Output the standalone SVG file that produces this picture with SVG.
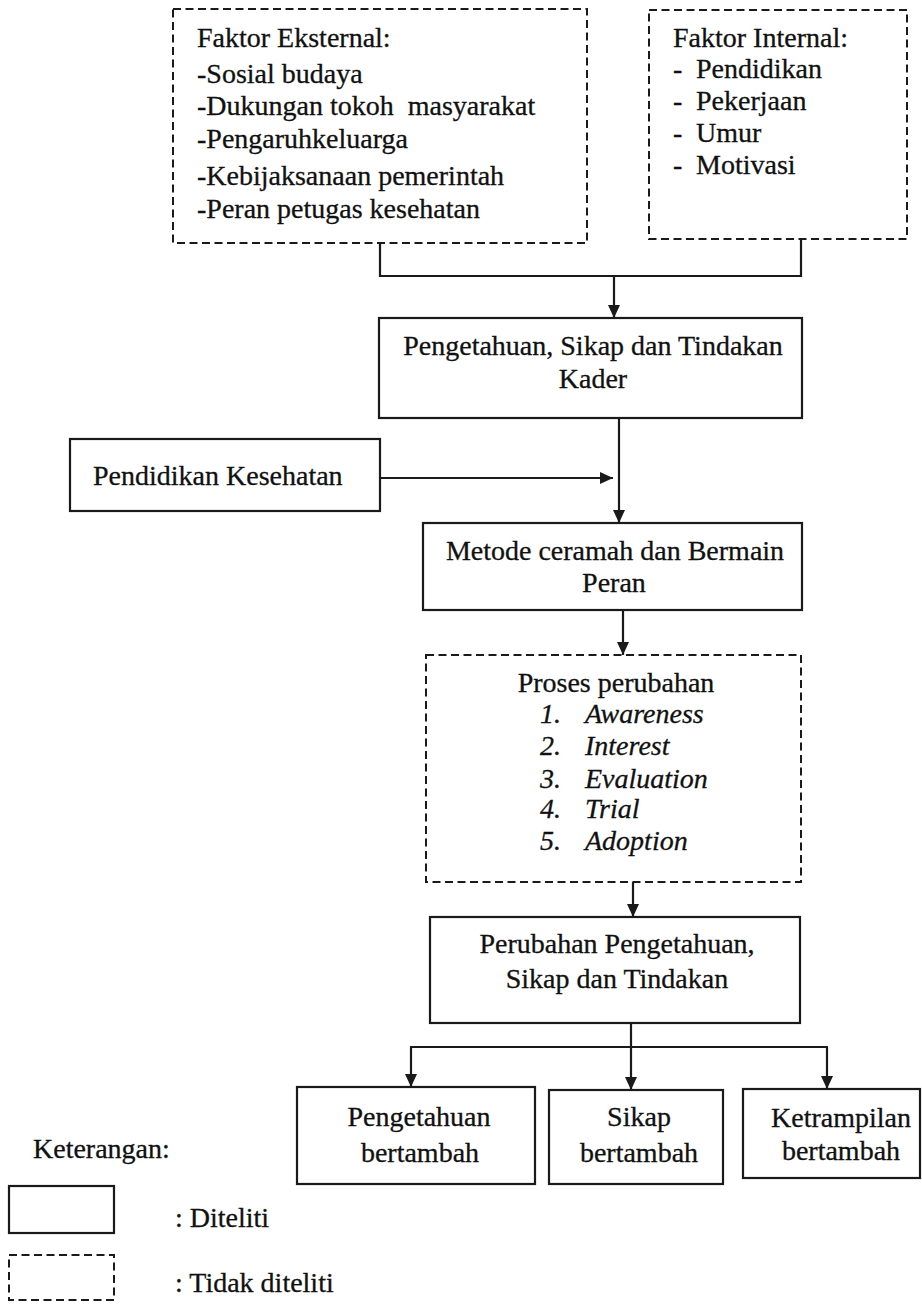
<svg xmlns="http://www.w3.org/2000/svg" width="922" height="1304" viewBox="0 0 922 1304">
<style>
  .box{fill:none;stroke:#1a1a1a;stroke-width:2.2}
  .dash{fill:none;stroke:#1a1a1a;stroke-width:2;stroke-dasharray:8 4.5}
  .t{font-family:"Liberation Serif","Times New Roman",serif;font-size:28px;fill:#111111;stroke:#111111;stroke-width:0.3}
  .c{text-anchor:middle}
  .i{font-style:italic}
  .ln{fill:none;stroke:#1a1a1a;stroke-width:2.2}
</style>
<defs>
  <marker id="arr" markerUnits="userSpaceOnUse" markerWidth="14" markerHeight="12" refX="13" refY="6" orient="auto">
    <path d="M0,0 L13,6 L0,12 Z" fill="#1a1a1a"/>
  </marker>
</defs>
<rect width="922" height="1304" fill="#ffffff"/>

<g id="connectors">
  <polyline class="ln" points="380,243 380,276 801,276 801,239"/>
  <line class="ln" x1="614" y1="276" x2="614" y2="318" marker-end="url(#arr)"/>
  <line class="ln" x1="380" y1="478" x2="613" y2="478" marker-end="url(#arr)"/>
  <line class="ln" x1="619" y1="418" x2="619" y2="523" marker-end="url(#arr)"/>
  <line class="ln" x1="623" y1="610" x2="623" y2="655" marker-end="url(#arr)"/>
  <line class="ln" x1="633" y1="882" x2="633" y2="917" marker-end="url(#arr)"/>
  <line class="ln" x1="631" y1="1023" x2="631" y2="1047"/>
  <line class="ln" x1="410" y1="1047" x2="828" y2="1047"/>
  <line class="ln" x1="411" y1="1047" x2="411" y2="1087" marker-end="url(#arr)"/>
  <line class="ln" x1="631" y1="1047" x2="631" y2="1090" marker-end="url(#arr)"/>
  <line class="ln" x1="827" y1="1047" x2="827" y2="1089" marker-end="url(#arr)"/>
</g>

<g id="faktor-eksternal">
  <rect class="dash" x="173" y="9" width="414" height="234"/>
  <text class="t" x="197" y="47">Faktor Eksternal:</text>
  <text class="t" x="197" y="83">-Sosial budaya</text>
  <text class="t" x="197" y="115" xml:space="preserve">-Dukungan tokoh  masyarakat</text>
  <text class="t" x="197" y="148">-Pengaruhkeluarga</text>
  <text class="t" x="197" y="185">-Kebijaksanaan pemerintah</text>
  <text class="t" x="197" y="218">-Peran petugas kesehatan</text>
</g>

<g id="faktor-internal">
  <rect class="dash" x="649" y="10" width="258" height="229"/>
  <text class="t" x="673" y="47">Faktor Internal:</text>
  <text class="t" x="673" y="78">- <tspan x="696">Pendidikan</tspan></text>
  <text class="t" x="673" y="110">- <tspan x="696">Pekerjaan</tspan></text>
  <text class="t" x="673" y="142">- <tspan x="696">Umur</tspan></text>
  <text class="t" x="673" y="174">- <tspan x="696">Motivasi</tspan></text>
</g>

<g id="pengetahuan-kader">
  <rect class="box" x="379" y="318" width="423" height="100"/>
  <text class="t c" x="593" y="355">Pengetahuan, Sikap dan Tindakan</text>
  <text class="t c" x="593" y="388">Kader</text>
</g>

<g id="pendidikan-kesehatan">
  <rect class="box" x="70" y="439" width="310" height="72"/>
  <text class="t" x="93" y="485">Pendidikan Kesehatan</text>
</g>

<g id="metode">
  <rect class="box" x="423" y="523" width="379" height="87"/>
  <text class="t c" x="615" y="560">Metode ceramah dan Bermain</text>
  <text class="t c" x="614" y="592">Peran</text>
</g>

<g id="proses-perubahan">
  <rect class="dash" x="426" y="655" width="375" height="227"/>
  <text class="t c" x="616" y="692">Proses perubahan</text>
  <text class="t i" x="540" y="723">1.<tspan x="585">Awareness</tspan></text>
  <text class="t i" x="540" y="755">2.<tspan x="585">Interest</tspan></text>
  <text class="t i" x="540" y="788">3.<tspan x="585">Evaluation</tspan></text>
  <text class="t i" x="540" y="818">4.<tspan x="585">Trial</tspan></text>
  <text class="t i" x="540" y="850">5.<tspan x="585">Adoption</tspan></text>
</g>

<g id="perubahan">
  <rect class="box" x="430" y="917" width="370" height="106"/>
  <text class="t c" x="617" y="953">Perubahan Pengetahuan,</text>
  <text class="t c" x="617" y="988">Sikap dan Tindakan</text>
</g>

<g id="pengetahuan-bertambah">
  <rect class="box" x="297" y="1087" width="238" height="97"/>
  <text class="t c" x="419" y="1126">Pengetahuan</text>
  <text class="t c" x="420" y="1162">bertambah</text>
</g>

<g id="sikap-bertambah">
  <rect class="box" x="549" y="1090" width="174" height="94"/>
  <text class="t c" x="639" y="1126">Sikap</text>
  <text class="t c" x="639" y="1162">bertambah</text>
</g>

<g id="ketrampilan-bertambah">
  <rect class="box" x="743" y="1089" width="177" height="89"/>
  <text class="t c" x="841" y="1127">Ketrampilan</text>
  <text class="t c" x="841" y="1160">bertambah</text>
</g>

<g id="legend">
  <text class="t" x="33" y="1158">Keterangan:</text>
  <rect class="box" x="9" y="1186" width="105" height="47"/>
  <text class="t" x="175" y="1227">: Diteliti</text>
  <rect class="dash" x="9" y="1255" width="105" height="45"/>
  <text class="t" x="175" y="1292">: Tidak diteliti</text>
</g>
</svg>
